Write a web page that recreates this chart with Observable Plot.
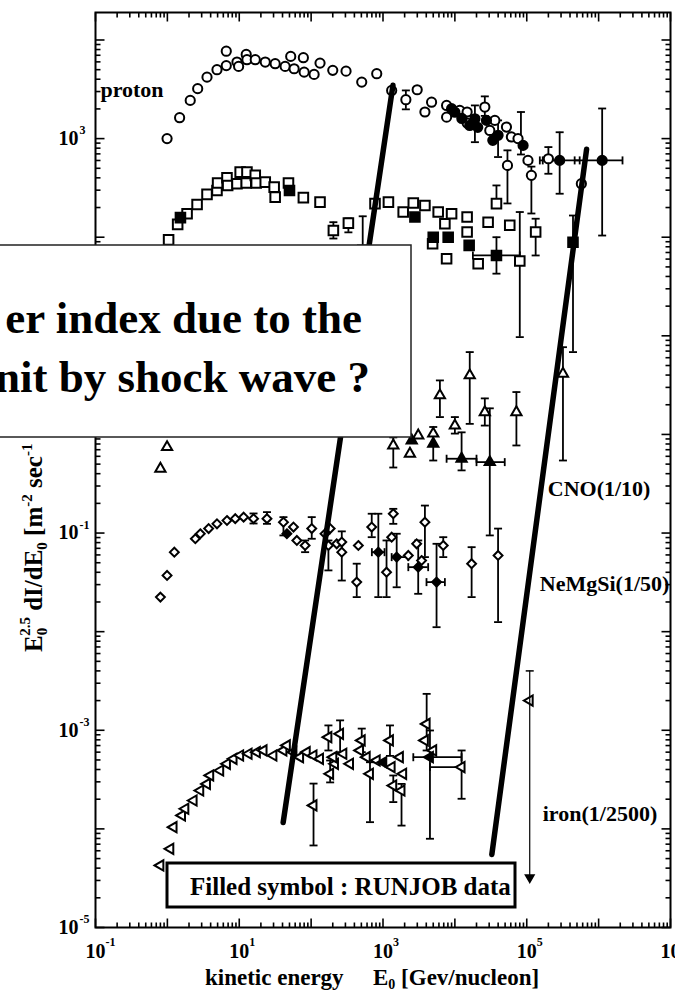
<!DOCTYPE html>
<html><head><meta charset="utf-8">
<script src="https://cdn.jsdelivr.net/npm/d3@7"></script>
<script src="https://cdn.jsdelivr.net/npm/@observablehq/plot@0.6"></script>
<style>
body{margin:0;background:#fff;}
#chart{width:675px;height:992px;overflow:hidden;}
</style></head>
<body><div id="chart"></div>
<script>
// ---------- data: [energy GeV/nucleon, E^2.5 dI/dE] ----------
const protonOpen = [[0.99,1000],[1.48,1630],[2.08,2440],[2.64,3210],[3.56,4200],[4.9,5000],[6.6,7700],[6.6,5500],[9.3,5970],[9.8,5400],[12.5,7140],[12.8,6310],[16.7,6310],[23,5970],[31.6,5750],[43.5,5400],[52,6820],[58,5110],[78,6610],[80,4720],[110,4480],[133,5830],[200,4920],[306,4830],[506,3740],[818,4550],[1320,3080],[2080,2480],[2990,3130],[3830,1860],[4740,2340],[7670,2170],[7670,1650],[11700,1930],[14800,1860],[14800,1440],[26100,2090],[30600,1210],[36000,1530],[52200,1310],[53900,535],[61100,1040],[75600,1000],[104000,601],[116000,424],[200000,625],[575000,349]];
const protonFilled = [[9000,2010],[10000,1850],[12500,1600],[16100,1360],[19000,1590],[20800,1300],[27500,1530],[33700,960],[39900,1080],[88900,853],[287000,601],[1.12e6,601]];
const protonErrV = [[2080,1980,3080],[19000,920,2170],[26100,1700,2680],[39900,650,1530],[53900,220,760],[83000,690,1860],[116000,174,520],[200000,440,820],[287000,276,1160],[1.12e6,104,2020]];
const protonErrH = [[601,167000,545000],[601,464000,2.15e6],[601,152000,287000]];

const heliumOpen = [[1.04,94],[1.39,135],[1.88,173],[2.59,215],[3.56,272],[4.9,298],[5.0,354],[6.75,401],[6.9,335],[9.3,349],[10.3,457],[12.5,354],[12.8,457],[16.7,424],[17.2,354],[23,362],[30.6,322],[31.6,255],[48.4,354],[78,252],[133,227],[204,117],[330,139],[522,73.5],[774,219],[1190,227],[1910,180],[2640,222],[3830,210],[4900,86],[5860,180],[7260,137],[9000,173],[7670,60.5],[14800,160],[14800,113],[21100,53.8],[29000,142],[37900,219],[58000,132],[80000,57.3],[133000,113]];
const heliumFilled = [[1.52,158],[50,298],[2780,160],[5000,100],[8070,100],[15800,82.6],[37900,65.3],[440000,89]];
const heliumErrV = [[204,97,142],[330,112,155],[522,73.5,163],[37900,219,335],[37900,42.7,100],[80000,9.7,180],[133000,65.3,154],[440000,6.84,166]];
const heliumErrH = [[65.3,17800,80000]];

const cnoOpen = [[0.99,0.743],[0.80,0.449],[3090,0.977],[2370,0.637],[6190,2.49],[5000,1.02],[10000,1.23],[16100,3.97],[26100,1.68],[71800,1.68],[319000,4.13],[1390,0.773]];
const cnoFilled = [[2510,0.869],[5000,0.805],[12400,0.567],[30600,0.524]];
const cnoErrV = [[6190,1.50,3.53],[5000,0.544,1.19],[10000,1.02,1.50],[16100,1.28,6.84],[12400,0.432,1.05],[26100,1.23,2.32],[30600,0.0946,1.84],[71800,0.773,2.69],[319000,0.544,7.67],[1390,0.462,0.933]];
const cnoErrH = [[0.567,7670,20000],[0.524,20000,49400]];

const nemgsiOpen = [[0.80,0.0224],[0.99,0.0372],[1.25,0.064],[2.45,0.0875],[2.87,0.0984],[3.75,0.111],[4.9,0.124],[6.75,0.134],[8.8,0.140],[11.5,0.145],[15.8,0.140],[24.3,0.140],[41.2,0.129],[56.8,0.115],[63.3,0.0841],[82.5,0.0748],[102,0.111],[156,0.0984],[174,0.0748],[227,0.0778],[184,0.111],[267,0.081],[267,0.064],[454,0.0748],[431,0.0318],[697,0.115],[1120,0.0401],[1390,0.157],[1320,0.0908],[2250,0.0593],[2940,0.0778],[3830,0.129],[3440,0.0527],[6890,0.0748],[17100,0.0489],[39900,0.0593]];
const nemgsiFilled = [[46,0.0984],[861,0.064],[1550,0.057],[3090,0.0451],[5560,0.0318]];
const nemgsiErrV = [[15.8,0.125,0.158],[24.3,0.124,0.163],[41.2,0.0946,0.145],[82.5,0.064,0.0841],[102,0.0875,0.145],[174,0.0418,0.0841],[267,0.033,0.104],[431,0.0224,0.0489],[697,0.0908,0.157],[861,0.0224,0.157],[1120,0.0224,0.0841],[1390,0.124,0.176],[1550,0.0282,0.0984],[3090,0.0242,0.0841],[3830,0.057,0.19],[5560,0.0111,0.0778],[6890,0.057,0.0908],[17100,0.0224,0.0719],[39900,0.0125,0.111]];
const nemgsiErrH = [[0.0318,4030,7260],[0.064,700,1050],[0.057,1320,2250],[0.0451,2250,4250]];

const ironOpen = [[0.80,4.26e-5],[1.10,6.28e-5],[1.22,1.04e-4],[1.60,1.37e-4],[1.78,1.60e-4],[2.32,1.94e-4],[2.87,2.45e-4],[3.56,2.86e-4],[3.95,3.48e-4],[5.44,3.91e-4],[6.75,4.57e-4],[8.34,5.14e-4],[10.3,5.55e-4],[13.5,5.78e-4],[17.6,6.0e-4],[21.8,6.24e-4],[29.9,5.55e-4],[41.2,6.24e-4],[46,7.02e-4],[56.8,6.0e-4],[70.3,5.33e-4],[87,6.0e-4],[108,5.55e-4],[108,1.73e-4],[133,5.14e-4],[174,8.51e-4],[184,3.62e-4],[215,4.57e-4],[204,5.33e-4],[253,9.2e-4],[281,5.78e-4],[348,4.57e-4],[480,6.24e-4],[506,7.89e-4],[594,5.33e-4],[659,3.62e-4],[818,4.94e-4],[1250,7.89e-4],[1320,4.23e-4],[1390,2.75e-4],[1720,5.33e-4],[1810,2.45e-4],[1910,3.62e-4],[4050,1.16e-3],[3830,7.89e-4],[5000,6.24e-4],[12400,4.23e-4],[110000,2.0e-3]];
const ironFilled = [[1010,4.74e-4],[4500,5.33e-4]];
const ironErrV = [[108,6.79e-5,2.88e-4],[174,6.24e-4,1.12e-3],[184,2.96e-4,4.94e-4],[253,6.0e-4,1.26e-3],[506,6.0e-4,1.04e-3],[659,1.17e-4,4.74e-4],[1250,5.5e-4,1.12e-3],[1390,1.87e-4,3.48e-4],[1810,1.08e-4,2.86e-4],[4050,6.24e-4,2.34e-3],[4500,7.94e-5,9.95e-4],[12400,2.02e-4,6.24e-4]];
const ironErrH = [[5.33e-4,2640,12400],[4.23e-4,4500,12400]];
const ironUpperLimit = [[110000,3.0e-5,4.0e-3]];

// slanted "steeper index" guide lines: [[E1,F1],[E2,F2]]
const guideLines = [[[1375,3470],[40.8,1.16e-4]],[[6.8e5,780],[3.27e4,5.5e-5]]];

// series labels (anchor energy, anchor flux)
const labelText = ["proton","CNO(1/10)","NeMgSi(1/50)","iron(1/2500)"];
const labelE = [0.117,1.96e5,1.52e5,1.67e5];
const labelF = [2620,0.240,0.0256,1.19e-4];

// axis tick labels (10^1 on the y axis is hidden behind the call-out box)
const xTickVals = [1e-1,1e1,1e3,1e5,1e7];
const xTickExp = ["-1","1","3","5","7"];
const yTickVals = [1e-5,1e-3,1e-1,1e3];
const yTickExp = ["-5","-3","-1","3"];

const xDomain = [1e-1,1e7];
const yDomain = [1e-5,1.9e4];

// ---------- symbols ----------
const capH = {draw(c){c.moveTo(-4,0);c.lineTo(4,0);}};
const capV = {draw(c){c.moveTo(0,-4);c.lineTo(0,4);}};
const tickSym = (dx,dy) => ({draw(c){c.moveTo(0,0);c.lineTo(dx,dy);}});
const triLeft = {draw(c,size){const s=Math.sqrt(size/(Math.sqrt(3)*3));c.moveTo(-2*s,0);c.lineTo(s,-Math.sqrt(3)*s);c.lineTo(s,Math.sqrt(3)*s);c.closePath();}};
const triDown = {draw(c,size){const s=Math.sqrt(size/(Math.sqrt(3)*3));c.moveTo(0,2*s);c.lineTo(-Math.sqrt(3)*s,-s);c.lineTo(Math.sqrt(3)*s,-s);c.closePath();}};

function seriesMarks(open, filled, errV, errH, symbol, r) {
  const st = {stroke:"black", strokeWidth:1.8};
  return [
    Plot.ruleX(errV, {x:d=>d[0], y1:d=>d[1], y2:d=>d[2], ...st}),
    Plot.dot(errV, {x:d=>d[0], y:d=>d[1], symbol:capH, fill:"none", ...st}),
    Plot.dot(errV, {x:d=>d[0], y:d=>d[2], symbol:capH, fill:"none", ...st}),
    Plot.ruleY(errH, {y:d=>d[0], x1:d=>d[1], x2:d=>d[2], ...st}),
    Plot.dot(errH, {x:d=>d[1], y:d=>d[0], symbol:capV, fill:"none", ...st}),
    Plot.dot(errH, {x:d=>d[2], y:d=>d[0], symbol:capV, fill:"none", ...st}),
    Plot.dot(open, {x:d=>d[0], y:d=>d[1], symbol, r, stroke:"black", strokeWidth:2, fill:"white"}),
    Plot.dot(filled, {x:d=>d[0], y:d=>d[1], symbol, r, stroke:"black", strokeWidth:2, fill:"black"})
  ];
}

const isMajor = d => Math.abs(Math.log10(d) - Math.round(Math.log10(d))) < 1e-9;
const xTicksAll = d3.scaleLog().domain(xDomain).ticks();
const yTicksAll = d3.scaleLog().domain(yDomain).ticks();
const xMaj = xTicksAll.filter(isMajor), xMin = xTicksAll.filter(d=>!isMajor(d));
const yMaj = yTicksAll.filter(isMajor), yMin = yTicksAll.filter(d=>!isMajor(d));
const tk = {fill:"none", stroke:"black", strokeWidth:1.6};

const chart = Plot.plot({
  width:675, height:992,
  marginLeft:95, marginRight:5, marginTop:12, marginBottom:65,
  style:{fontFamily:"'Liberation Serif','Times New Roman',serif", fontWeight:"bold", background:"white"},
  x:{type:"log", domain:xDomain, axis:null},
  y:{type:"log", domain:yDomain, axis:null},
  marks:[
    Plot.frame({stroke:"black", strokeWidth:2}),
    // inward ticks on all four sides
    Plot.dot(xMaj, {x:d=>d, y:yDomain[0], symbol:tickSym(0,-9), ...tk}),
    Plot.dot(xMin, {x:d=>d, y:yDomain[0], symbol:tickSym(0,-5), ...tk}),
    Plot.dot(xMaj, {x:d=>d, y:yDomain[1], symbol:tickSym(0,9), ...tk}),
    Plot.dot(xMin, {x:d=>d, y:yDomain[1], symbol:tickSym(0,5), ...tk}),
    Plot.dot(yMaj, {x:xDomain[0], y:d=>d, symbol:tickSym(9,0), ...tk}),
    Plot.dot(yMin, {x:xDomain[0], y:d=>d, symbol:tickSym(5,0), ...tk}),
    Plot.dot(yMaj, {x:xDomain[1], y:d=>d, symbol:tickSym(-9,0), ...tk}),
    Plot.dot(yMin, {x:xDomain[1], y:d=>d, symbol:tickSym(-5,0), ...tk}),
    // tick labels
    Plot.text(xTickVals, {x:d=>d, y:yDomain[0], text:()=>"10", dy:24, fontSize:20, textAnchor:"middle"}),
    Plot.text(xTickVals, {x:d=>d, y:yDomain[0], text:(d,i)=>xTickExp[i], dx:10, dy:15, fontSize:12, textAnchor:"start"}),
    Plot.text(yTickVals, {x:xDomain[0], y:d=>d, text:()=>"10", dx:-17, fontSize:20, textAnchor:"end"}),
    Plot.text(yTickVals, {x:xDomain[0], y:d=>d, text:(d,i)=>yTickExp[i], dx:-16, dy:-8, fontSize:12, textAnchor:"start"}),
    // data
    ...seriesMarks(protonOpen, protonFilled, protonErrV, protonErrH, "circle", 4.6),
    ...seriesMarks(heliumOpen, heliumFilled, heliumErrV, heliumErrH, "square", 5.4),
    ...seriesMarks(cnoOpen, cnoFilled, cnoErrV, cnoErrH, "triangle", 3.8),
    ...seriesMarks(nemgsiOpen, nemgsiFilled, nemgsiErrV, nemgsiErrH, "diamond2", 4.0),
    ...seriesMarks(ironOpen, ironFilled, ironErrV, ironErrH, triLeft, 3.8),
    Plot.ruleX(ironUpperLimit, {x:d=>d[0], y1:d=>d[1], y2:d=>d[2], stroke:"black", strokeWidth:1.2}),
    Plot.dot(ironUpperLimit, {x:d=>d[0], y:d=>d[2], symbol:capH, fill:"none", stroke:"black", strokeWidth:1.5}),
    Plot.dot(ironUpperLimit, {x:d=>d[0], y:d=>d[1], symbol:triDown, r:3.2, fill:"black", stroke:"black", dy:-3}),
    // labels
    Plot.text(labelText, {x:(d,i)=>labelE[i], y:(d,i)=>labelF[i], text:d=>d, textAnchor:"start", lineAnchor:"bottom", fontSize:22}),
    // guide lines
    Plot.link(guideLines, {x1:d=>d[0][0], y1:d=>d[0][1], x2:d=>d[1][0], y2:d=>d[1][1], stroke:"black", strokeWidth:5.5, strokeLinecap:"round"})
  ]
});
document.getElementById("chart").appendChild(chart);

// ---------- annotations ----------
const svg = d3.select(chart);
const ff = "'Liberation Serif','Times New Roman',serif";
const txt = (x, y, size, anchor) => svg.append("text").attr("x",x).attr("y",y)
  .attr("font-family",ff).attr("font-weight","bold").attr("font-size",size)
  .attr("text-anchor",anchor).attr("fill","black");

// y axis title
const yl = svg.append("text").attr("transform","translate(42,652) rotate(-90)").attr("text-anchor","start")
  .attr("font-family",ff).attr("font-weight","bold").attr("font-size",25).attr("fill","black");
yl.append("tspan").text("E");
yl.append("tspan").attr("font-size",15).attr("dy",5).text("0");
yl.append("tspan").attr("font-size",15).attr("dx",-8).attr("dy",-17).text("2.5");
yl.append("tspan").attr("dy",12).text(" dI/dE");
yl.append("tspan").attr("font-size",15).attr("dy",5).text("0");
yl.append("tspan").attr("dy",-5).text(" [m");
yl.append("tspan").attr("font-size",15).attr("dy",-10).text("-2");
yl.append("tspan").attr("dy",10).text(" sec");
yl.append("tspan").attr("font-size",15).attr("dy",-10).text("-1");
yl.append("tspan").attr("dy",10).text(" sr");
yl.append("tspan").attr("font-size",15).attr("dy",-10).text("-1");
yl.append("tspan").attr("dy",10).text(" (GeV/n)");
yl.append("tspan").attr("font-size",15).attr("dy",-10).text("1.5");
yl.append("tspan").attr("dy",10).text("]");

// x axis title
txt(205, 985, 23, "start").text("kinetic energy");
const xl = txt(373, 985, 23, "start");
xl.append("tspan").text("E");
xl.append("tspan").attr("font-size",14).attr("dy",4).text("0");
xl.append("tspan").attr("dy",-4).text(" [Gev/nucleon]");

// RUNJOB legend box
svg.append("rect").attr("x",167).attr("y",863).attr("width",348).attr("height",44)
  .attr("fill","white").attr("stroke","black").attr("stroke-width",3);
txt(190, 895, 25, "start").text("Filled symbol : RUNJOB data");

// slide call-out box
svg.append("rect").attr("x",-10).attr("y",245).attr("width",421).attr("height",192)
  .attr("fill","white").attr("stroke","#222").attr("stroke-width",1.5);
txt(362, 333, 45, "end").text("er index due to the");
txt(370, 392, 45, "end").text("nit by shock wave ?");
</script>
</body></html>
